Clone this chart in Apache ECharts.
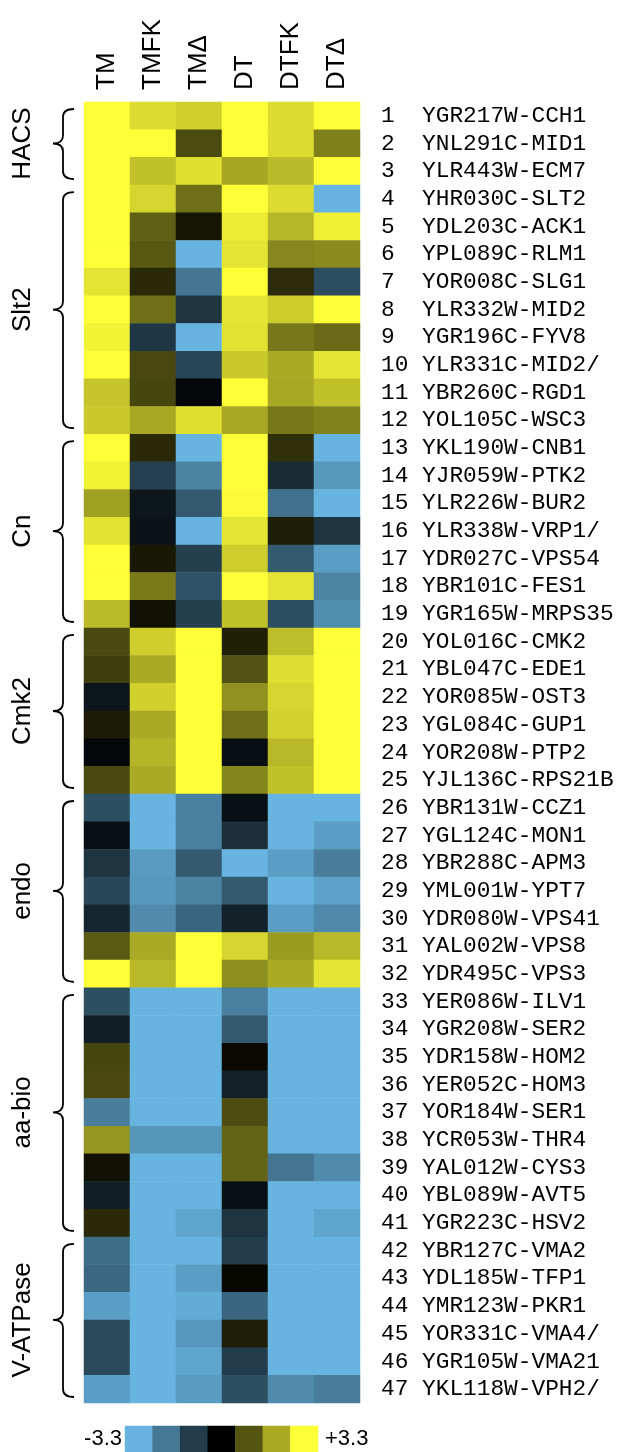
<!DOCTYPE html>
<html>
<head>
<meta charset="utf-8">
<script src="https://cdn.jsdelivr.net/npm/echarts@6/dist/echarts.min.js"></script>
<style>
html,body{margin:0;padding:0;background:#fff;}
#chart{width:617px;height:1452px;}
</style>
</head>
<body>
<div id="chart"></div>
<script>
const COLUMNS = ['TM', 'TMFK', 'TMΔ', 'DT', 'DTFK', 'DTΔ'];
const GENES = [
  'YGR217W-CCH1','YNL291C-MID1','YLR443W-ECM7','YHR030C-SLT2','YDL203C-ACK1',
  'YPL089C-RLM1','YOR008C-SLG1','YLR332W-MID2','YGR196C-FYV8','YLR331C-MID2/',
  'YBR260C-RGD1','YOL105C-WSC3','YKL190W-CNB1','YJR059W-PTK2','YLR226W-BUR2',
  'YLR338W-VRP1/','YDR027C-VPS54','YBR101C-FES1','YGR165W-MRPS35','YOL016C-CMK2',
  'YBL047C-EDE1','YOR085W-OST3','YGL084C-GUP1','YOR208W-PTP2','YJL136C-RPS21B',
  'YBR131W-CCZ1','YGL124C-MON1','YBR288C-APM3','YML001W-YPT7','YDR080W-VPS41',
  'YAL002W-VPS8','YDR495C-VPS3','YER086W-ILV1','YGR208W-SER2','YDR158W-HOM2',
  'YER052C-HOM3','YOR184W-SER1','YCR053W-THR4','YAL012W-CYS3','YBL089W-AVT5',
  'YGR223C-HSV2','YBR127C-VMA2','YDL185W-TFP1','YMR123W-PKR1','YOR331C-VMA4/',
  'YGR105W-VMA21','YKL118W-VPH2/'
];
const TM = [3.3,3.3,3.3,3.3,3.3,3.3,2.95,3.3,3.15,3.3,2.55,2.6,3.3,3.13,2.07,2.93,3.3,3.3,2.42,
  0.96,0.8,-0.38,0.35,-0.15,0.96,-1.45,-0.3,-0.95,-1.3,-0.7,1.16,3.3,-1.45,-0.55,0.9,0.93,-2.3,1.93,
  0.23,-0.55,0.55,-2.0,-1.9,-2.9,-1.35,-1.35,-2.9];
const TMFK = [2.85,3.3,2.5,2.75,1.23,1.14,0.55,1.43,-1.0,0.93,0.9,2.17,0.55,-1.2,-0.4,-0.35,0.31,1.58,0.23,
  2.67,2.2,2.7,2.2,2.34,2.2,-3.3,-3.3,-2.85,-2.8,-2.55,2.2,2.38,-3.3,-3.3,-3.3,-3.3,-3.3,-2.75,
  -3.3,-3.3,-3.3,-3.3,-3.3,-3.3,-3.3,-3.3,-3.3];
const TMD = [2.7,0.97,2.9,1.43,0.28,-3.3,-2.17,-0.95,-3.3,-1.28,-0.1,2.9,-3.3,-2.4,-1.65,-3.3,-1.15,-1.5,-1.15,
  3.3,3.3,3.3,3.3,3.3,3.3,-2.35,-2.35,-1.65,-2.4,-1.85,3.3,3.3,-3.3,-3.3,-3.3,-3.3,-3.3,-2.75,
  -3.3,-3.3,-3.05,-3.3,-2.9,-3.15,-2.8,-3.05,-2.85];
const DT = [3.3,3.3,2.15,3.3,3.05,2.95,3.3,2.95,2.93,2.6,3.3,2.17,3.3,3.3,3.25,2.95,2.65,3.3,2.5,
  0.41,1.06,1.88,1.43,-0.25,1.72,-0.3,-0.85,-3.3,-1.65,-0.6,2.76,1.84,-2.35,-1.65,0.13,-0.6,1.0,1.3,
  1.3,-0.3,-0.95,-1.1,0.1,-1.85,0.4,-1.1,-1.45];
const DTFK = [2.85,2.85,2.4,2.85,2.35,1.75,0.57,2.64,1.55,2.2,2.17,1.55,0.62,-0.8,-2.05,0.39,-1.65,2.95,-1.45,
  2.46,2.87,2.76,2.72,2.38,2.5,-3.3,-3.3,-2.9,-3.3,-2.9,2.0,2.2,-3.3,-3.3,-3.3,-3.3,-3.3,-3.3,
  -2.15,-3.3,-3.3,-3.3,-3.3,-3.3,-3.3,-3.3,-2.55];
const DTD = [3.3,1.65,3.3,-3.3,3.1,1.78,-1.4,3.3,1.37,2.95,2.5,1.68,-3.3,-2.78,-3.3,-0.95,-2.9,-2.42,-2.6,
  3.3,3.3,3.3,3.3,3.3,3.3,-3.3,-2.9,-2.3,-2.95,-2.5,2.38,2.95,-3.3,-3.3,-3.3,-3.3,-3.3,-3.3,
  -2.55,-3.3,-3.05,-3.3,-3.3,-3.3,-3.3,-3.3,-2.3];
const GROUP_NAMES = ['HACS', 'Slt2', 'Cn', 'Cmk2', 'endo', 'aa-bio', 'V-ATPase'];
const GROUP_START = [1, 4, 13, 20, 26, 33, 42];
const GROUP_END = [3, 12, 19, 25, 32, 41, 47];
const LEGEND_VALUES = [-3.3, -2.2, -1.1, 0, 1.1, 2.2, 3.3];
const LEGEND_TICKS = ['-3.3', '+3.3'];
const VMIN = -3.3, VMAX = 3.3;

const COLUMN_VALUES = [TM, TMFK, TMD, DT, DTFK, DTD];
const ROW_LABELS = GENES.map((g, i) => String(i + 1).padEnd(3, ' ') + g);
const heatData = [];
COLUMN_VALUES.forEach((col, ci) => col.forEach((v, ri) => heatData.push([ci, ri, v])));
const legendData = LEGEND_VALUES.map((v, i) => [i, 0, v]);
const groupData = GROUP_NAMES.map((n, i) => [0, GROUP_START[i] - 1, GROUP_END[i] - 1]);

const SANS = '"Liberation Sans", Arial, Helvetica, sans-serif';
const chart = echarts.init(document.getElementById('chart'), null, {renderer: 'canvas'});
chart.setOption({
  backgroundColor: '#ffffff',
  animation: false,
  grid: [
    {left: 84, top: 102, width: 276, height: 1301},
    {left: 125, top: 1426, width: 193, height: 26}
  ],
  xAxis: [
    {gridIndex: 0, type: 'category', position: 'top', data: COLUMNS,
     axisLine: {show: false}, axisTick: {show: false}, splitLine: {show: false},
     axisLabel: {rotate: -90, margin: 12, fontSize: 26, color: '#000', fontFamily: SANS, interval: 0}},
    {gridIndex: 1, type: 'category', data: LEGEND_VALUES.map(String), show: false}
  ],
  yAxis: [
    {gridIndex: 0, type: 'category', inverse: true, position: 'right', data: ROW_LABELS,
     axisLine: {show: false}, axisTick: {show: false}, splitLine: {show: false},
     axisLabel: {margin: 21, fontSize: 22.8, color: '#000', fontFamily: '"Liberation Mono", "Courier New", monospace', interval: 0, align: 'left'}},
    {gridIndex: 1, type: 'category', position: 'left', data: [LEGEND_TICKS[0]],
     axisLine: {show: false}, axisTick: {show: false},
     axisLabel: {margin: 3, fontSize: 22, color: '#000', fontFamily: SANS}},
    {gridIndex: 1, type: 'category', position: 'right', data: [LEGEND_TICKS[1]],
     axisLine: {show: false}, axisTick: {show: false},
     axisLabel: {margin: 7, fontSize: 22, color: '#000', fontFamily: SANS}}
  ],
  visualMap: {
    type: 'continuous', show: false, min: VMIN, max: VMAX, dimension: 2,
    seriesIndex: [0, 1],
    inRange: {color: ['#67b4e0', '#000000', '#ffff38']}
  },
  series: [
    {type: 'heatmap', xAxisIndex: 0, yAxisIndex: 0, data: heatData,
     itemStyle: {borderWidth: 0}, emphasis: {disabled: true}},
    {type: 'heatmap', xAxisIndex: 1, yAxisIndex: 1, data: legendData,
     itemStyle: {borderWidth: 0}, emphasis: {disabled: true}},
    {type: 'custom', xAxisIndex: 0, yAxisIndex: 0, data: groupData, clip: false,
     encode: {x: 0, y: 1},
     renderItem: function (params, api) {
       const s = api.value(1), e = api.value(2);
       const c0 = api.coord([0, s]);
       const c1 = api.coord([0, e]);
       const sz = api.size([1, 1]);
       const gl = c0[0] - sz[0] / 2;
       const gTop = c0[1] - sz[1] / 2, gBot = c1[1] + sz[1] / 2;
       const top = gTop + 7, bot = gBot - 6;
       const mid = (gTop + gBot) / 2;
       const x0 = gl - 21, xr = gl - 10, xl = gl - 31;
       const r = 8;
       const d = 'M' + xr + ',' + top +
         ' Q' + x0 + ',' + top + ' ' + x0 + ',' + (top + r) +
         ' L' + x0 + ',' + (mid - r) +
         ' Q' + x0 + ',' + mid + ' ' + xl + ',' + mid +
         ' Q' + x0 + ',' + mid + ' ' + x0 + ',' + (mid + r) +
         ' L' + x0 + ',' + (bot - r) +
         ' Q' + x0 + ',' + bot + ' ' + xr + ',' + bot;
       return {
         type: 'group',
         children: [
           {type: 'path', shape: {pathData: d},
            style: {fill: null, stroke: '#000', lineWidth: 1.8}},
           {type: 'text', x: gl - 61, y: mid, rotation: Math.PI / 2,
            style: {text: GROUP_NAMES[params.dataIndex], align: 'center', verticalAlign: 'middle',
                    fontSize: 26, fontFamily: SANS, fill: '#000'}}
         ]
       };
     }}
  ]
});
</script>
</body>
</html>
